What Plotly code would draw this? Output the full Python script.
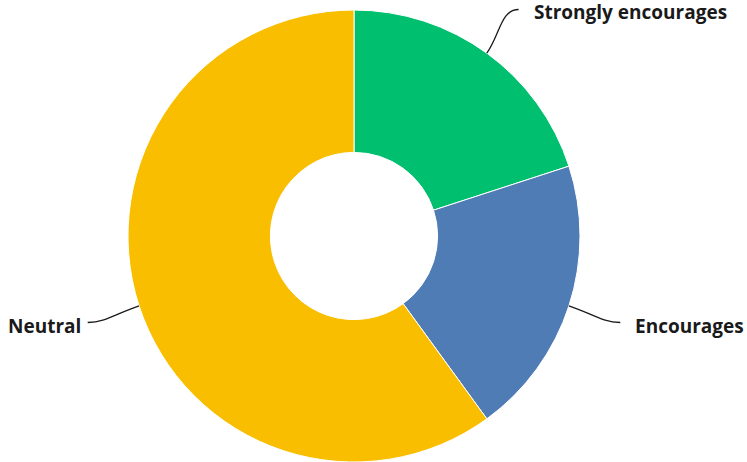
import math
import plotly.graph_objects as go

# Survey responses
labels = ["Strongly encourages", "Encourages", "Neutral"]
values = [20, 20, 60]
colors = ["#00BF6F", "#507CB6", "#F9BE00"]

W, H = 747, 462
CX, CY, R = 354, 236, 226      # donut centre and outer radius (px)
HOLE = 0.37
LEADER_R = 280                 # radius where leader lines end
GAP_RIGHT, GAP_LEFT = 13, 5    # space between leader end and label text

fig = go.Figure()
fig.add_trace(go.Pie(
    labels=labels,
    values=values,
    marker=dict(colors=colors, line=dict(color="white", width=1)),
    hole=HOLE,
    sort=False,
    direction="clockwise",
    rotation=0,
    textinfo="none",
    hoverinfo="label+percent",
    showlegend=False,
    domain=dict(x=[(CX - R) / W, (CX + R) / W],
                y=[(H - CY - R) / H, (H - CY + R) / H]),
))

# Leader lines and outside labels, placed at each slice's mid-angle
total = sum(values)
shapes, annotations = [], []
acc = 0
for lab, v in zip(labels, values):
    mid = (acc + v / 2) / total * 2 * math.pi
    acc += v
    dx, dy = math.sin(mid), -math.cos(mid)
    x0, y0 = CX + R * dx, CY + R * dy
    x1, y1 = CX + LEADER_R * dx, CY + LEADER_R * dy
    side = 1 if dx >= 0 else -1
    c1x, c1y = CX + (R + 22) * dx, CY + (R + 22) * dy
    c2x, c2y = x1 - side * 18, y1
    shapes.append(dict(
        type="path", xref="x", yref="y",
        path=f"M {x0:.1f},{y0:.1f} C {c1x:.1f},{c1y:.1f} {c2x:.1f},{c2y:.1f} {x1:.1f},{y1:.1f}",
        line=dict(color="#1a1a1a", width=1.3),
    ))
    gap = GAP_RIGHT if side > 0 else GAP_LEFT
    annotations.append(dict(
        x=x1 + side * gap, y=y1 + 3, xref="x", yref="y",
        text=f"<b>{lab}</b>", showarrow=False,
        xanchor="left" if side > 0 else "right", yanchor="middle",
        font=dict(family="Open Sans", size=19, color="#1a1a1a"),
    ))

fig.update_layout(
    width=W, height=H,
    margin=dict(l=0, r=0, t=0, b=0),
    paper_bgcolor="white", plot_bgcolor="rgba(0,0,0,0)",
    xaxis=dict(range=[0, W], visible=False, fixedrange=True),
    yaxis=dict(range=[H, 0], visible=False, fixedrange=True),
    shapes=shapes,
    annotations=annotations,
)

fig.write_html("out.html")
